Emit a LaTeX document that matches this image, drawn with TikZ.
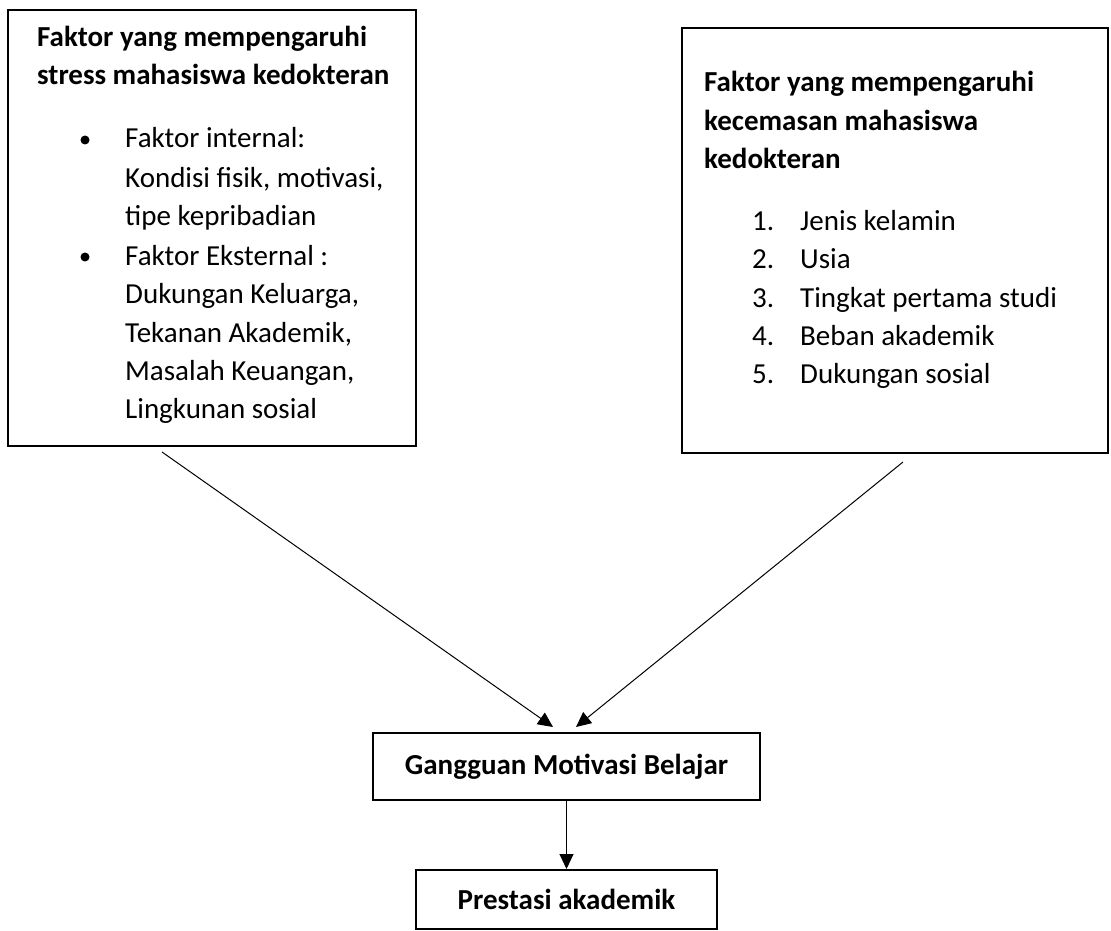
\documentclass[tikz,border=0pt]{standalone}
\usepackage{fontspec}
\setmainfont{Carlito}
\usetikzlibrary{arrows.meta}
\begin{document}
\begin{tikzpicture}[x=1pt,y=-1pt,
  box/.style={draw,line width=2pt,inner sep=0pt},
  txt/.style={anchor=base west,inner sep=0pt,font=\fontsize{29}{34}\selectfont},
  btxt/.style={anchor=base west,inner sep=0pt,font=\fontsize{29}{34}\selectfont\bfseries},
  ctxt/.style={box,font=\fontsize{29}{34}\selectfont\bfseries},
  dot/.style={circle,fill=black,inner sep=0pt,minimum size=9pt},
  arr/.style={line width=1pt,-{Triangle[length=15pt,width=14pt]}}]
\useasboundingbox (0,0) rectangle (1111,931);
% boxes
\node[box,minimum width=408pt,minimum height=436pt] (L) at (212,228) {};
\node[box,minimum width=426pt,minimum height=425pt] (R) at (895,240.5) {};
\node[ctxt,minimum width=387pt,minimum height=67pt] (G) at (566.5,766.5) {Gangguan Motivasi Belajar};
\node[ctxt,minimum width=301pt,minimum height=59pt] (P) at (566.5,899.5) {Prestasi akademik};
% left box text
\node[btxt] (l1) at (37,47) {Faktor yang mempengaruhi};
\node[btxt] (l2) at (37,85) {stress mahasiswa kedokteran};
\node[dot] (b1) at (85,140) {};
\node[txt] (i1) at (125,148) {Faktor internal:};
\node[txt] (i2) at (125,187) {Kondisi fisik, motivasi,};
\node[txt] (i3) at (125,225) {tipe kepribadian};
\node[dot] (b2) at (85,257) {};
\node[txt] (i4) at (125,265) {Faktor Eksternal :};
\node[txt] (i5) at (125,303) {Dukungan Keluarga,};
\node[txt] (i6) at (125,342) {Tekanan Akademik,};
\node[txt] (i7) at (125,380) {Masalah Keuangan,};
\node[txt] (i8) at (125,418) {Lingkunan sosial};
% right box text
\node[btxt] (r1) at (704,92) {Faktor yang mempengaruhi};
\node[btxt] (r2) at (704,131) {kecemasan mahasiswa};
\node[btxt] (r3) at (704,168) {kedokteran};
\node[txt] (n1) at (752,230) {1.};
\node[txt] (t1) at (800,230) {Jenis kelamin};
\node[txt] (n2) at (752,268) {2.};
\node[txt] (t2) at (800,268) {Usia};
\node[txt] (n3) at (752,307) {3.};
\node[txt] (t3) at (800,307) {Tingkat pertama studi};
\node[txt] (n4) at (752,345) {4.};
\node[txt] (t4) at (800,345) {Beban akademik};
\node[txt] (n5) at (752,383) {5.};
\node[txt] (t5) at (800,383) {Dukungan sosial};
% connectors
\coordinate (as) at (162,452);
\coordinate (ae) at (553,727);
\coordinate (bs) at (903,462);
\coordinate (be) at (576,727);
\draw[arr] (as) -- (ae);
\draw[arr] (bs) -- (be);
\draw[arr] (G.south) -- (G.south |- P.north);
\end{tikzpicture}
\end{document}
